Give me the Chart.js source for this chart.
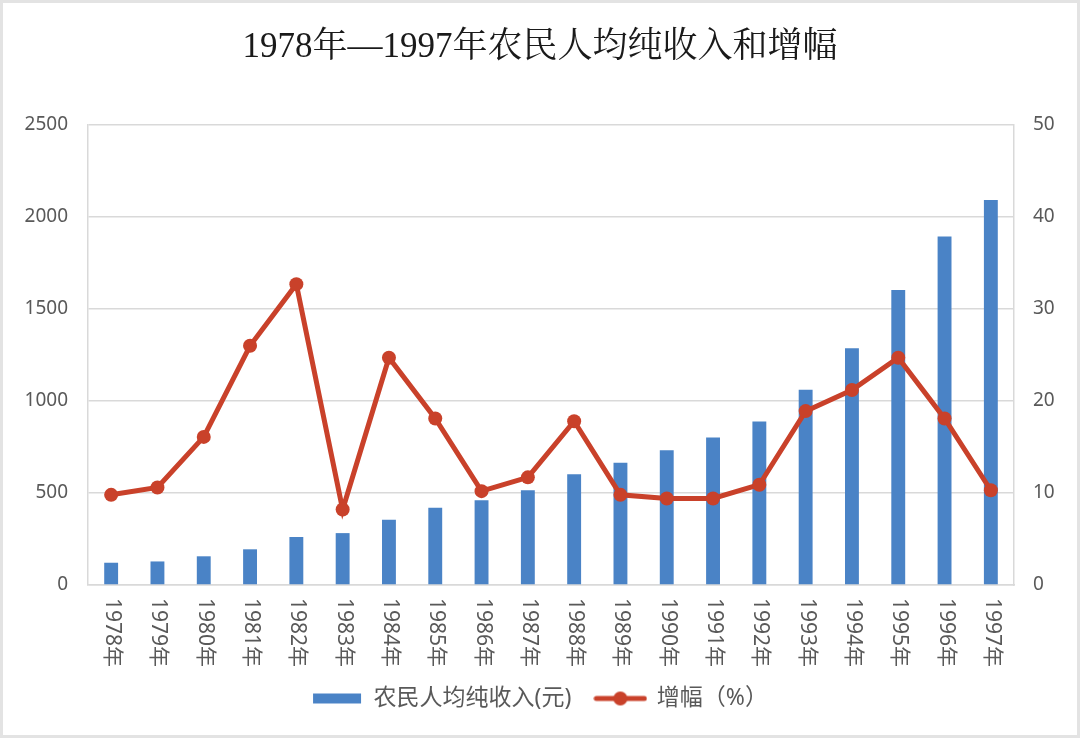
<!DOCTYPE html>
<html>
<head>
<meta charset="utf-8">
<script src="https://cdn.jsdelivr.net/npm/chart.js@4.4.1/dist/chart.umd.min.js"></script>
<style>
  html, body { margin: 0; padding: 0; background: #fff; }
  #wrap { position: relative; width: 1080px; height: 738px; }
  #frame { position: absolute; left: 0; top: 0; width: 1080px; height: 738px; box-sizing: border-box;
           border: 3px solid #e3e3e3; pointer-events: none; }
</style>
</head>
<body>
<div id="wrap">
  <canvas id="chart1" width="1080" height="738"></canvas>
  <div id="frame"></div>
</div>
<script>
// 数据
const years = ['1978年', '1979年', '1980年', '1981年', '1982年', '1983年', '1984年', '1985年', '1986年', '1987年',
               '1988年', '1989年', '1990年', '1991年', '1992年', '1993年', '1994年', '1995年', '1996年', '1997年'];
const income = [121, 128, 156, 194, 261, 282, 355, 420, 461, 515,
                602, 664, 732, 802, 888, 1061, 1287, 1603, 1894, 2093];
const growth = [9.8, 10.6, 16.1, 26.0, 32.7, 8.2, 24.7, 18.1, 10.2, 11.7,
                17.8, 9.8, 9.4, 9.4, 10.9, 18.9, 21.2, 24.7, 18.1, 10.3];
const leftTicks = [0, 500, 1000, 1500, 2000, 2500];
const rightTicks = [0, 10, 20, 30, 40, 50];

const blue = '#4a83c6';
const red = '#c9412a';
const textColor = '#595959';
const gridColor = '#d9d9d9';
const sansFont = "'Noto Sans', 'Noto Sans CJK SC', sans-serif";

// 图例小图标
function makeBarIcon() {
  const c = document.createElement('canvas');
  c.width = 50; c.height = 12;
  const g = c.getContext('2d');
  g.fillStyle = blue;
  g.fillRect(1, 1, 48, 10);
  return c;
}
function makeLineIcon() {
  const c = document.createElement('canvas');
  c.width = 54; c.height = 16;
  const g = c.getContext('2d');
  g.strokeStyle = red;
  g.lineWidth = 5;
  g.lineCap = 'round';
  g.beginPath();
  g.moveTo(3, 8); g.lineTo(51, 8);
  g.stroke();
  g.fillStyle = red;
  g.beginPath();
  g.arc(27, 8, 7, 0, Math.PI * 2);
  g.fill();
  return c;
}
const barIcon = makeBarIcon();
const lineIcon = makeLineIcon();

// x 轴标签顺时针竖排
const verticalLabels = {
  id: 'verticalLabels',
  afterDraw(chart) {
    const ctx = chart.ctx;
    const xs = chart.scales.x;
    ctx.save();
    ctx.font = '21px ' + sansFont;
    ctx.fillStyle = textColor;
    ctx.textAlign = 'left';
    ctx.textBaseline = 'middle';
    years.forEach(function(label, i) {
      const x = xs.getPixelForTick(i);
      ctx.save();
      ctx.translate(x + 1, xs.top + 13);
      ctx.rotate(Math.PI / 2);
      ctx.fillText(label, 0, 0);
      ctx.restore();
    });
    ctx.restore();
  }
};

const ctx = document.getElementById('chart1').getContext('2d');
window.chart1Instance = new Chart(ctx, {
  data: {
    labels: years,
    datasets: [{
      type: 'bar',
      label: '农民人均纯收入(元)',
      data: income,
      backgroundColor: blue,
      borderWidth: 0,
      barPercentage: 0.3,
      categoryPercentage: 1,
      yAxisID: 'y',
      order: 1
    }, {
      type: 'line',
      label: '增幅（%）',
      data: growth,
      borderColor: red,
      backgroundColor: red,
      borderWidth: 5,
      pointRadius: 7,
      pointBorderWidth: 0,
      tension: 0,
      yAxisID: 'y1',
      order: 0
    }]
  },
  options: {
    responsive: false,
    animation: false,
    layout: { padding: { left: 0, right: 0, top: 0, bottom: 18 } },
    plugins: {
      title: {
        display: true,
        text: '1978年—1997年农民人均纯收入和增幅',
        color: '#1a1a1a',
        font: { family: "'Liberation Serif', 'Noto Serif CJK SC', 'Noto Sans CJK SC', serif", size: 35, weight: 'normal' },
        padding: { top: 27, bottom: 56 }
      },
      legend: {
        position: 'bottom',
        labels: {
          usePointStyle: true,
          pointStyleWidth: 50,
          padding: 24,
          color: textColor,
          font: { family: sansFont, size: 23 },
          generateLabels: function(chart) {
            return [
              { text: '农民人均纯收入(元)', pointStyle: barIcon, fillStyle: blue, strokeStyle: blue, lineWidth: 0, datasetIndex: 0, fontColor: textColor },
              { text: '增幅（%）', pointStyle: lineIcon, fillStyle: red, strokeStyle: red, lineWidth: 0, datasetIndex: 1, fontColor: textColor }
            ];
          }
        }
      },
      tooltip: { enabled: false }
    },
    scales: {
      x: {
        offset: true,
        grid: { display: false },
        border: { display: true, color: gridColor, width: 1.5 },
        ticks: { display: false },
        afterFit: function(scale) { scale.height = 78; }
      },
      y: {
        position: 'left',
        min: 0,
        max: 2500,
        afterBuildTicks: function(scale) { scale.ticks = leftTicks.map(v => ({ value: v })); },
        grid: { color: gridColor, lineWidth: 1.5, drawTicks: false },
        border: { display: true, color: gridColor, width: 1.5 },
        ticks: { color: textColor, padding: 20, font: { family: sansFont, size: 19 }, callback: v => String(v) },
        afterFit: function(scale) { scale.width = 88; }
      },
      y1: {
        position: 'right',
        min: 0,
        max: 50,
        afterBuildTicks: function(scale) { scale.ticks = rightTicks.map(v => ({ value: v })); },
        grid: { drawOnChartArea: false, drawTicks: false },
        border: { display: true, color: gridColor, width: 1.5 },
        ticks: { color: textColor, padding: 19, font: { family: sansFont, size: 19 }, callback: v => String(v) },
        afterFit: function(scale) { scale.width = 66; }
      }
    }
  },
  plugins: [verticalLabels]
});
</script>
</body>
</html>
